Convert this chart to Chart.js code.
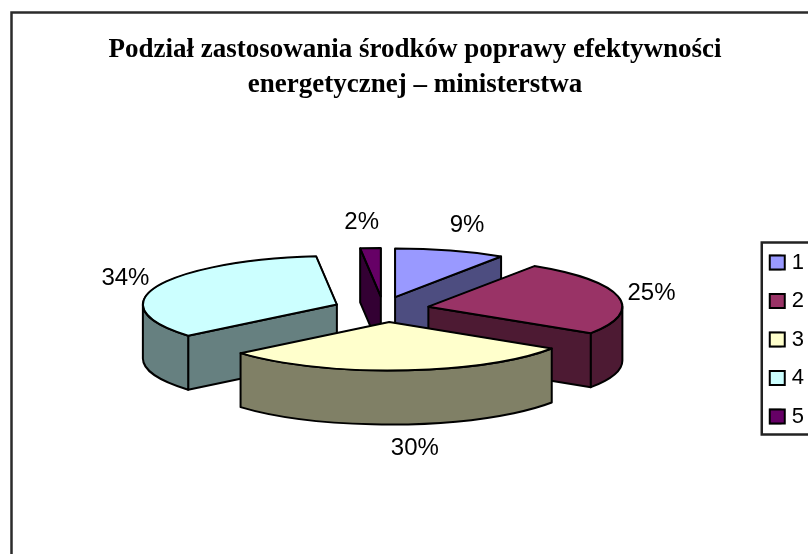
<!DOCTYPE html>
<html><head><meta charset="utf-8">
<style>html,body{margin:0;padding:0;background:#fff;overflow:hidden}#w{width:808px;height:554px}</style>
<script src="https://cdn.jsdelivr.net/npm/chart.js@4/dist/chart.umd.min.js"></script>
</head><body><div id="w"><canvas id="c" width="808" height="554"></canvas></div>
<script>
const categories = ['1','2','3','4','5'];
const shares = [9.2,25,29.7,34.4,1.7];
const topColors = ['#9999FF','#993366','#FFFFCC','#CCFFFF','#660066'];
const sideColors = ['#4D4D80','#4D1A33','#808066','#668080','#330033'];
const titleLines = ['Podział zastosowania środków poprawy efektywności','energetycznej – ministerstwa'];

const markerTop = (h)=>h.top+(h.height-14)/2;
const pie3d = {
  id:'pie3d',
  beforeDraw(chart,args,o){
    const c=chart.ctx; c.save();
    c.strokeStyle='#2b2b2b'; c.lineWidth=2.5;
    c.beginPath(); c.moveTo(11.5,554); c.lineTo(11.5,12.5); c.lineTo(808,12.5); c.stroke();
    const h=chart.legend.legendHitBoxes;
    c.strokeStyle='#222';
    const t=markerTop(h[0]), b=markerTop(h[4])+14;
    c.strokeRect(h[0].left-8,t-13,200,b+11-(t-13));
    c.restore();
  },
  beforeDatasetDraw(chart,args,o){
    const c=chart.ctx, meta=chart.getDatasetMeta(0);
    const items=meta.data.map((el,i)=>({el,i,mid:(el.startAngle+el.endAngle)/2}));
    items.sort((a,b)=>Math.sin(a.mid)-Math.sin(b.mid));
    c.save(); c.lineJoin='round'; c.strokeStyle='#000'; c.lineWidth=o.line;
    for(const {el,i,mid} of items){
      const rx=el.outerRadius, ry=rx*o.squash, a0=el.startAngle, a1=el.endAngle;
      const px=o.cx+o.explode*Math.cos(mid)+o.shift[i], py=o.cy+o.explode*o.explodeY*Math.sin(mid);
      const pt=(t)=>[px+rx*Math.cos(t),py+ry*Math.sin(t)];
      c.fillStyle=sideColors[i];
      const radial=(t)=>{const p=pt(t);c.beginPath();c.moveTo(px,py);c.lineTo(p[0],p[1]);c.lineTo(p[0],p[1]+o.depth);c.lineTo(px,py+o.depth);c.closePath();c.fill();c.stroke();};
      if(Math.cos(a0)<0) radial(a0);
      if(Math.cos(a1)>0) radial(a1);
      const t0=Math.max(a0,0), t1=Math.min(a1,Math.PI);
      if(t1>t0){
        c.beginPath(); c.ellipse(px,py,rx,ry,0,t0,t1); c.ellipse(px,py+o.depth,rx,ry,0,t1,t0,true); c.closePath(); c.fill(); c.stroke();
      }
      c.save(); c.translate(px,py); c.scale(1,o.squash); c.translate(-el.x,-el.y); el.draw(c); c.restore();
      c.beginPath(); c.moveTo(px,py); c.ellipse(px,py,rx,ry,0,a0,a1); c.closePath(); c.stroke();
    }
    c.restore();
    return false;
  },
  afterDatasetsDraw(chart,args,o){
    const c=chart.ctx, meta=chart.getDatasetMeta(0), total=shares.reduce((a,b)=>a+b,0);
    c.save(); c.font='24px "Liberation Sans"'; c.fillStyle='#000'; c.textAlign='center'; c.textBaseline='middle';
    meta.data.forEach((el,i)=>{
      const mid=(el.startAngle+el.endAngle)/2, rx=el.outerRadius, ry=rx*o.squash;
      const px=o.cx+o.explode*Math.cos(mid), py=o.cy+o.explode*o.explodeY*Math.sin(mid);
      const front=Math.sin(mid)>0.9?o.labelDepth:0;
      const x=px+(rx+o.labelGap)*Math.cos(mid)+o.nudge[i];
      const y=py+ry*Math.sin(mid)+front+o.labelGapY*Math.sin(mid)+2;
      c.fillText(Math.round(shares[i]/total*100)+'%',x,y);
    });
    c.restore();
  },
  afterDraw(chart){
    const c=chart.ctx, l=chart.legend, items=l.legendItems;
    c.save(); c.strokeStyle='#000'; c.lineWidth=2;
    l.legendHitBoxes.forEach((h,i)=>{
      c.fillStyle=items[i].fillStyle;
      c.fillRect(h.left,markerTop(h),15,14); c.strokeRect(h.left,markerTop(h),15,14);
    });
    c.restore();
  }
};

new Chart(document.getElementById('c'),{
  type:'pie',
  data:{labels:categories,datasets:[{data:shares,backgroundColor:topColors,borderColor:'#000',borderWidth:1.5}]},
  plugins:[pie3d],
  options:{
    responsive:false,animation:false,radius:194,
    layout:{padding:{left:16,right:-6,top:0,bottom:110}},
    plugins:{
      tooltip:{enabled:false},
      title:{display:true,text:titleLines,color:'#000',font:{family:'"Liberation Serif"',size:27,weight:'bold',lineHeight:1.3},padding:{top:32,bottom:12}},
      legend:{position:'right',align:'end',labels:{boxWidth:11,boxHeight:14,padding:16.5,color:'#000',font:{family:'"Liberation Sans"',size:22}}},
      pie3d:{cx:381.4,cy:309.3,squash:0.25,explode:48,explodeY:0.265,depth:54,line:2,labelGap:34,labelGapY:28,labelDepth:48,shift:[0,0,5,0,2],nudge:[7,0,17,0,-5]}
    }
  }
});
</script></body></html>
